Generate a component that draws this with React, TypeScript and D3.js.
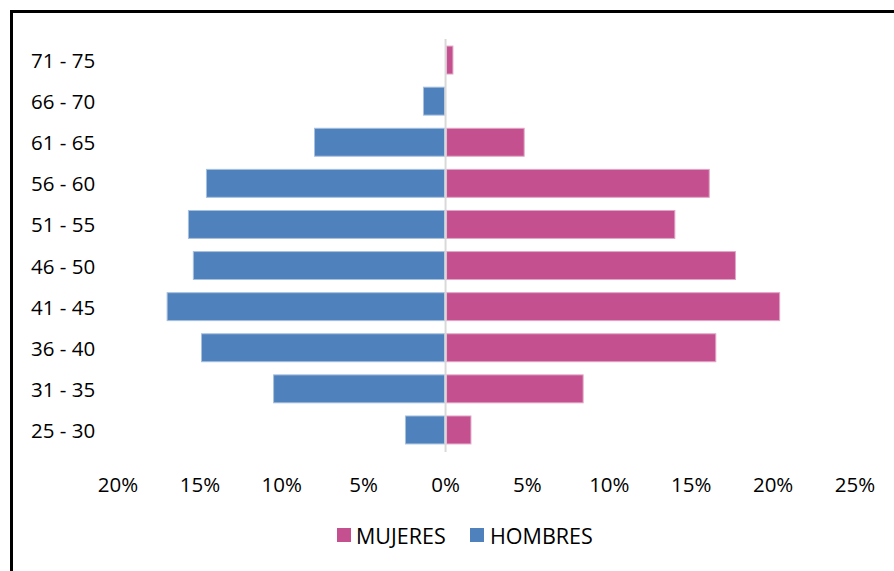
import React from "react";
import * as d3 from "d3";

const categories = ["71 - 75", "66 - 70", "61 - 65", "56 - 60", "51 - 55", "46 - 50", "41 - 45", "36 - 40", "31 - 35", "25 - 30"];
const mujeres = [0.45, 0, 4.8, 16.1, 14.0, 17.7, 20.4, 16.5, 8.4, 1.55];
const hombres = [0, 1.35, 8.0, 14.6, 15.7, 15.4, 17.0, 14.9, 10.5, 2.45];
const xTicks = [-20, -15, -10, -5, 0, 5, 10, 15, 20, 25];

const W = 894;
const H = 571;
const FONT = "'Open Sans', 'Liberation Sans', sans-serif";
const PINK = "#C4508F";
const BLUE = "#4F81BD";

export default function App() {
  const x = d3.scaleLinear().domain([-20, 25]).range([118, 855]);
  const y = d3.scaleBand<string>().domain(categories).range([39.5, 450.5]).paddingInner(0.32).paddingOuter(0.16);
  const x0 = x(0);
  return (
    <svg width={W} height={H} style={{ position: "absolute", left: 0, top: 0, background: "#fff" }}>
      <rect x={0} y={0} width={W} height={H} fill="#fff" />
      <rect x={11.5} y={11.5} width={900} height={700} fill="none" stroke="#000" strokeWidth={3} />
      {categories.map((c, i) => (
        <g key={c}>
          {hombres[i] > 0 && (
            <rect
              x={x(-hombres[i])}
              y={y(c)}
              width={x0 - 1 - x(-hombres[i])}
              height={y.bandwidth()}
              fill={BLUE}
              stroke="#a7c0de"
              strokeWidth={1}
            />
          )}
          {mujeres[i] > 0 && (
            <rect
              x={x0 + 1}
              y={y(c)}
              width={x(mujeres[i]) - x0 - 1}
              height={y.bandwidth()}
              fill={PINK}
              stroke="#e0a6c6"
              strokeWidth={1}
            />
          )}
          <text x={31} y={(y(c) as number) + y.bandwidth() / 2} dominantBaseline="central" fontFamily={FONT} fontSize={20.5} fill="#000">
            {c}
          </text>
        </g>
      ))}
      <line x1={x0} x2={x0} y1={39} y2={452} stroke="#d9d9d9" strokeWidth={2} />
      {xTicks.map((t) => (
        <text key={t} x={x(t)} y={484} textAnchor="middle" dominantBaseline="central" fontFamily={FONT} fontSize={20.5} fill="#000">
          {Math.abs(t) + "%"}
        </text>
      ))}
      <g>
        <rect x={337} y={528} width={14} height={14} fill={PINK} />
        <text x={356} y={535.5} dominantBaseline="central" fontFamily={FONT} fontSize={21.5} fill="#000">MUJERES</text>
        <rect x={470} y={528} width={14} height={14} fill={BLUE} />
        <text x={490} y={535.5} dominantBaseline="central" fontFamily={FONT} fontSize={21.5} fill="#000">HOMBRES</text>
      </g>
    </svg>
  );
}
